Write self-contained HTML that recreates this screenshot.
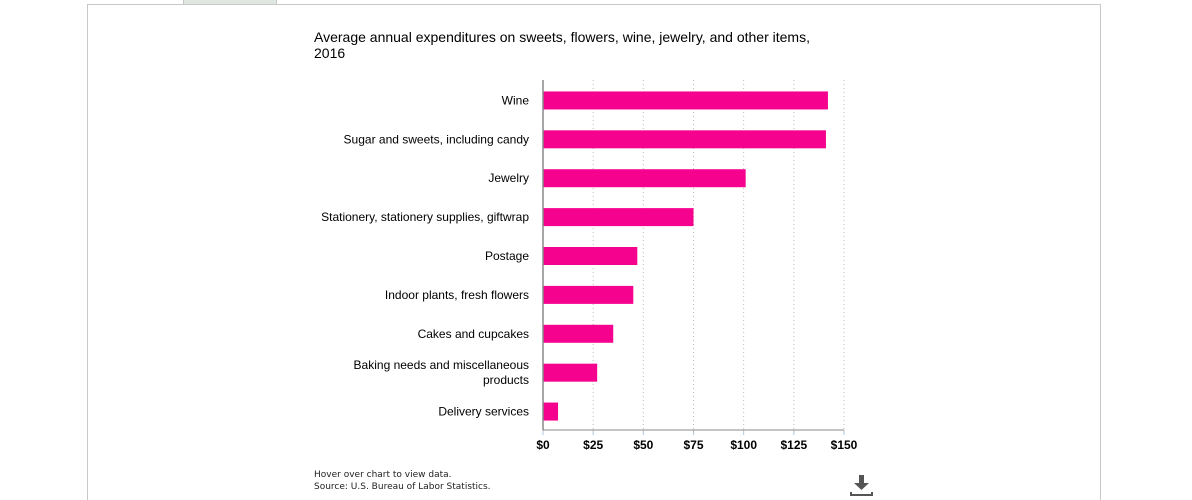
<!DOCTYPE html>
<html style="overflow:hidden;height:500px"><head><meta charset="utf-8">
<style>
body{margin:0;width:1192px;height:500px;background:#fff;overflow:hidden;font-family:"Liberation Sans",Arial,sans-serif;position:relative}
.frame{position:absolute;left:87px;top:4px;width:1014px;height:496px;border:1px solid #c8c8c8;border-bottom:none;box-sizing:border-box}
.tab{position:absolute;left:183px;top:0;width:92px;height:4px;background:#e0e6e0;border:1px solid #c8c8c8;border-top:none}
.title{position:absolute;left:314px;top:29px;font-size:14px;line-height:16px;color:#000;width:520px}
.note{position:absolute;left:314px;top:469px;font-family:"DejaVu Sans",sans-serif;font-size:9px;line-height:12px;color:#222}
</style></head><body>
<div class="frame"></div>
<div class="tab"></div>
<div class="title">Average annual expenditures on sweets, flowers, wine, jewelry, and other items, 2016</div>
<svg id="chart" width="1192" height="500" style="position:absolute;left:0;top:0"></svg>
<div class="note">Hover over chart to view data.<br>Source: U.S. Bureau of Labor Statistics.</div>
<svg style="position:absolute;left:850px;top:475px" width="24" height="22">
<rect x="9" y="0" width="5" height="8" fill="#555"/><polygon points="4,8 19,8 11.5,15" fill="#555"/>
<path d="M1 17 V20 H22 V17" stroke="#555" stroke-width="2" fill="none"/></svg>
<script>
const categories=["Wine","Sugar and sweets, including candy","Jewelry","Stationery, stationery supplies, giftwrap","Postage","Indoor plants, fresh flowers","Cakes and cupcakes","Baking needs and miscellaneous|products","Delivery services"];
const values=[142,141,101,75,47,45,35,27,7.5];
const ticks=[0,25,50,75,100,125,150];
const tickLabels=["$0","$25","$50","$75","$100","$125","$150"];
const NS="http://www.w3.org/2000/svg";
const svg=document.getElementById('chart');
const x0=543,x1=844,yTop=80,yBottom=430,maxV=150;
const xs=v=>x0+(v/maxV)*(x1-x0);
const step=(yBottom-yTop)/categories.length;
const yc=i=>yTop+step*(i+0.5)+1;
function mk(t,a){const e=document.createElementNS(NS,t);for(const k in a)e.setAttribute(k,a[k]);svg.appendChild(e);return e;}
ticks.forEach((t,i)=>{
  const g=mk('line',{x1:xs(t),x2:xs(t),y1:yTop,y2:yBottom,stroke:'#bbb','stroke-dasharray':'1,3'});
  
  
  const tk=mk('line',{x1:xs(t),x2:xs(t),y1:yBottom,y2:yBottom+5,stroke:'#b0c4d8'});
  
  
  const l=mk('text',{x:xs(t),y:yBottom+19,'text-anchor':'middle','font-size':12,'font-weight':'bold',fill:'#000'});
  l.textContent=tickLabels[i];
  
  
});
categories.forEach((c,i)=>{
  const b=mk('rect',{x:x0,y:yc(i)-9,width:xs(values[i])-x0,height:18,fill:'#f5028e'});
  
  
  const parts=c.split('|');
  parts.forEach((p,j)=>{
    const t=mk('text',{x:529,y:yc(i)+4+(j-(parts.length-1)/2)*15,'text-anchor':'end','font-size':12,fill:'#000'});
    t.textContent=p;
    
    
  });
});
const ya=mk('line',{x1:x0,x2:x0,y1:yTop,y2:yBottom,stroke:'#888','stroke-width':1.5});


const xa=mk('line',{x1:x0,x2:x1,y1:yBottom,y2:yBottom,stroke:'#888'});


</script>
</body></html>
